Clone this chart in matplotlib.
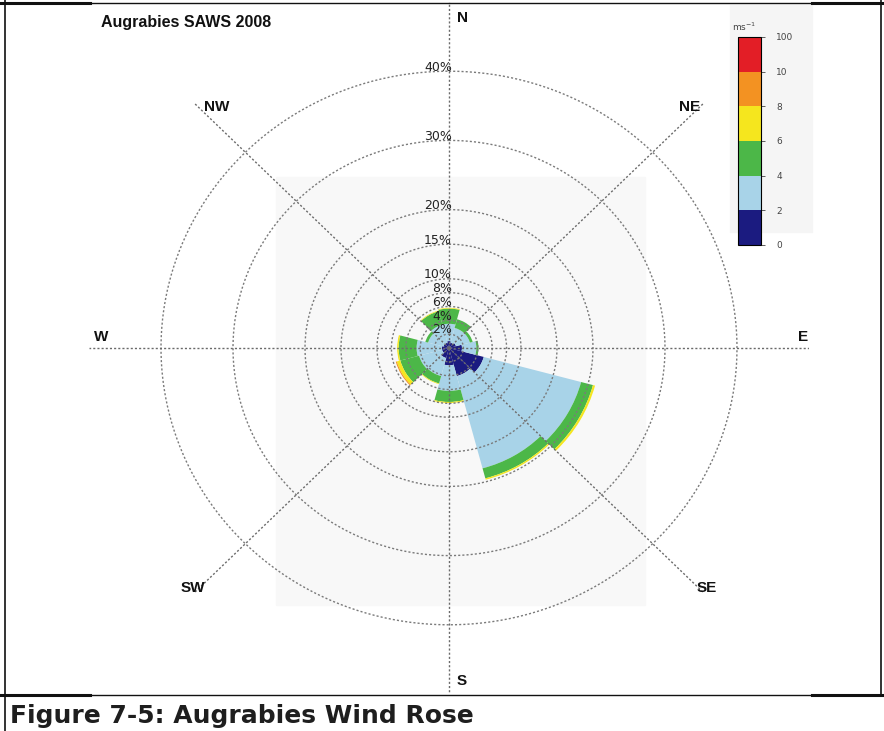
import numpy as np
import matplotlib
matplotlib.use("Agg")
import matplotlib.pyplot as plt
from matplotlib.colors import ListedColormap, BoundaryNorm
from matplotlib.cm import ScalarMappable
from matplotlib.patches import Rectangle
from matplotlib.lines import Line2D

# wind directions (sector centres, degrees) and frequency (%) per speed class
directions = [0, 30, 60, 90, 120, 150, 180, 210, 240, 270, 300, 330]
spd_0_2 = [1.0, 0.8, 1.0, 1.8, 5.0, 4.2, 2.5, 1.5, 1.0, 1.0, 0.8, 0.8]
spd_2_4 = [2.5, 2.2, 2.0, 2.0, 14.0, 13.8, 3.7, 2.7, 3.3, 3.5, 2.2, 2.7]
spd_4_6 = [2.2, 1.3, 0.4, 0.3, 1.7, 1.5, 1.6, 1.1, 2.7, 2.5, 0.4, 2.0]
spd_6_8 = [0.1, 0.0, 0.0, 0.0, 0.3, 0.2, 0.15, 0.1, 0.5, 0.2, 0.0, 0.1]
spd_8_10 = [0.0, 0.0, 0.0, 0.0, 0.0, 0.0, 0.0, 0.0, 0.15, 0.0, 0.0, 0.0]
spd_10_100 = [0.0] * 12

speed_bounds = [0, 2, 4, 6, 8, 10, 100]
speed_colors = ["#1b1b80", "#a8d3e8", "#4cb748", "#f5e61e", "#f39222", "#e31e26"]
rings = [2, 4, 6, 8, 10, 15, 20, 30, 40]
compass = ["N", "NE", "E", "SE", "S", "SW", "W", "NW"]

W, H = 884, 731
fig = plt.figure(figsize=(W / 100, H / 100), dpi=100)


def px(x0, y0, x1, y1):
    # pixel box (top-left origin) -> figure fraction rect
    return [x0 / W, 1 - y1 / H, (x1 - x0) / W, (y1 - y0) / H]


# faint background patches (scanned look)
fig.add_artist(Rectangle((276 / W, 1 - 605 / H), (645 - 276) / W, (605 - 177) / H,
                         transform=fig.transFigure, color="#f8f8f8", zorder=0))
fig.add_artist(Rectangle((730 / W, 1 - 232 / H), 82 / W, 227 / H,
                         transform=fig.transFigure, color="#f5f5f5", zorder=0))

ax = fig.add_axes(px(89, 2, 809, 694), projection="polar")
ax.set_theta_zero_location("N")
ax.set_theta_direction(-1)
ax.patch.set_alpha(0)

theta = np.deg2rad(directions)
width = np.deg2rad(30)
bottom = np.zeros(len(directions))
for vals, col in zip([spd_0_2, spd_2_4, spd_4_6, spd_6_8, spd_8_10, spd_10_100], speed_colors):
    vals = np.array(vals)
    ax.bar(theta, vals, width=width, bottom=bottom, color=col, edgecolor="none",
           linewidth=0, zorder=2)
    bottom += vals

ax.set_ylim(0, 50)
ax.set_aspect("auto")
ax.grid(False)
ax.set_xticks([])
ax.set_yticks([])
ax.spines["polar"].set_visible(False)

t = np.linspace(0, 2 * np.pi, 400)
for r in rings:
    ax.plot(t, np.full_like(t, r), ls=(0, (1.5, 1.5)), color="#7a7a7a", lw=1.0, zorder=3)
    ax.annotate(f"{r}%", xy=(0, r), xytext=(2, 3), textcoords="offset points",
                ha="right", va="center", fontsize=9, color="#222222", zorder=4)

for k in range(8):
    a = np.deg2rad(45 * k)
    ax.plot([a, a], [0, 50], ls=(0, (1.5, 1.5)), color="#6a6a6a", lw=1.0, zorder=3)

# compass labels
lab_pos = {"N": (462, 18), "S": (462, 681), "E": (803, 337), "W": (101, 337),
           "NE": (690, 107), "NW": (217, 107), "SE": (707, 588), "SW": (193, 588)}
for name in compass:
    x, y = lab_pos[name]
    fig.text(x / W, 1 - y / H, name, ha="center", va="center", fontsize=11,
             fontweight="bold", family="Liberation Sans", color="#111111")

fig.text(101 / W, 1 - 23 / H, "Augrabies SAWS 2008", ha="left", va="center",
         fontsize=11.5, fontweight="bold", family="Liberation Sans", color="#111111")

# colour bar
cax = fig.add_axes(px(738, 37, 761, 245))
cmap = ListedColormap(speed_colors)
norm = BoundaryNorm(speed_bounds, cmap.N)
cb = fig.colorbar(ScalarMappable(norm=norm, cmap=cmap), cax=cax, spacing="uniform",
                  ticks=speed_bounds)
cb.ax.tick_params(labelsize=6.5, length=3, width=0.6, colors="#444444", pad=8)
cb.outline.set_linewidth(0.8)
cb.ax.set_yticklabels([str(b) for b in speed_bounds])
fig.text(744 / W, 1 - 27 / H, "ms$^{-1}$", ha="center", va="center", fontsize=6.5,
         color="#444444")

# document frame
for (x0, x1, lw) in [(0, 884, 1.0), (0, 90, 2.2), (812, 884, 2.2)]:
    for yy in (3, 695):
        fig.add_artist(Line2D([x0 / W, x1 / W], [1 - yy / H, 1 - yy / H],
                              transform=fig.transFigure, color="#111111", lw=lw))
fig.add_artist(Line2D([5 / W, 5 / W], [0, 1], transform=fig.transFigure,
                      color="#111111", lw=1.2))
fig.add_artist(Line2D([881 / W, 881 / W], [1 - 695 / H, 1], transform=fig.transFigure,
                      color="#111111", lw=1.2))

fig.text(10 / W, 1 - 716 / H, "Figure 7-5: Augrabies Wind Rose", ha="left", va="center",
         fontsize=18, fontweight="bold", family="DejaVu Sans", color="#1e1e1e")

fig.savefig("out.png", dpi=100)
